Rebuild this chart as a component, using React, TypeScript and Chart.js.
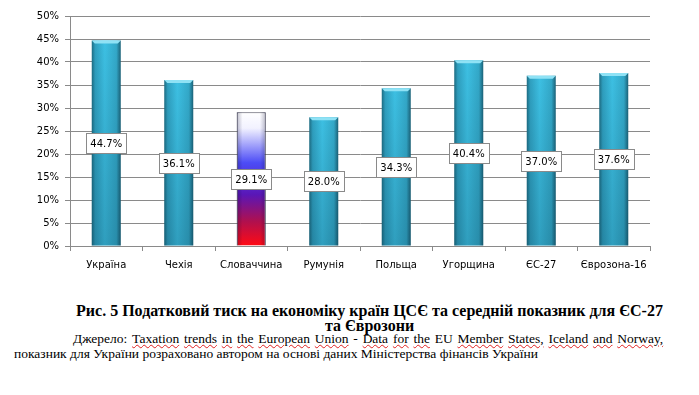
import React, { useEffect, useRef } from "react";
import { Chart, registerables } from "chart.js";

Chart.register(...registerables);

const categories = ["Україна", "Чехія", "Словаччина", "Румунія", "Польща", "Угорщина", "ЄС-27", "Єврозона-16"];
const values = [44.7, 36.1, 29.1, 28.0, 34.3, 40.4, 37.0, 37.6];
const highlighted = [false, false, true, false, false, false, false, false];
const yMax = 50;
const yStep = 5;

const captionLine1 = "Рис. 5 Податковий тиск на економіку країн ЦСЄ та середній показник для ЄС-27";
const captionLine2 = "та Єврозони";
const sourceWords = ["Taxation", "trends", "in", "the", "European", "Union", "-", "Data", "for", "the", "EU", "Member", "States,", "Iceland", "and", "Norway,"];
const sourceLine2 = "показник для України розраховано автором на основі даних Міністерства фінансів України";

const LABEL_FONT = "10px 'DejaVu Sans', Verdana, sans-serif";

const barFx = {
  id: "barFx",
  beforeDatasetsDraw(chart: any) {
    const ctx = chart.ctx;
    const meta = chart.getDatasetMeta(0);
    meta.data.forEach((el: any, i: number) => {
      const { x, y, base, width } = el.getProps(["x", "y", "base", "width"], true);
      const l = x - width / 2;
      const r = x + width / 2;
      let g;
      if (highlighted[i]) {
        g = ctx.createLinearGradient(0, y, 0, base);
        g.addColorStop(0, "#ffffff");
        g.addColorStop(0.12, "#f2f2ff");
        g.addColorStop(0.38, "#4c4cf6");
        g.addColorStop(0.62, "#5a16b6");
        g.addColorStop(0.82, "#b0104e");
        g.addColorStop(1, "#ff0a14");
      } else {
        g = ctx.createLinearGradient(l, 0, r, 0);
        g.addColorStop(0, "#1d6c82");
        g.addColorStop(0.12, "#2f9fbf");
        g.addColorStop(0.45, "#3dc0e3");
        g.addColorStop(0.85, "#33a8c8");
        g.addColorStop(1, "#1b6278");
      }
      el.options.backgroundColor = g;
    });
  },
  afterDatasetsDraw(chart: any) {
    const ctx = chart.ctx;
    const meta = chart.getDatasetMeta(0);
    ctx.save();
    meta.data.forEach((el: any, i: number) => {
      const { x, y, base, width } = el.getProps(["x", "y", "base", "width"], true);
      const l = x - width / 2;
      const r = x + width / 2;
      if (!highlighted[i]) {
        const v = ctx.createLinearGradient(0, y, 0, base);
        v.addColorStop(0, "rgba(0,40,60,0)");
        v.addColorStop(1, "rgba(0,40,60,0.22)");
        ctx.fillStyle = v;
        ctx.fillRect(l, y, width, base - y);
        ctx.beginPath();
        ctx.moveTo(l, y);
        ctx.lineTo(r, y);
        ctx.lineTo(r - 3, y + 3);
        ctx.lineTo(l + 3, y + 3);
        ctx.closePath();
        ctx.fillStyle = "#8fe2f5";
        ctx.fill();
      } else {
        const h = ctx.createLinearGradient(l, 0, r, 0);
        h.addColorStop(0, "rgba(0,0,40,0.25)");
        h.addColorStop(0.2, "rgba(0,0,40,0)");
        h.addColorStop(0.8, "rgba(0,0,40,0)");
        h.addColorStop(1, "rgba(0,0,40,0.25)");
        ctx.fillStyle = h;
        ctx.fillRect(l, y, width, base - y);
      }
    });
    // data labels
    ctx.font = LABEL_FONT;
    ctx.textAlign = "center";
    ctx.textBaseline = "middle";
    meta.data.forEach((el: any, i: number) => {
      const { x, y, base } = el.getProps(["x", "y", "base"], true);
      const text = values[i].toFixed(1) + "%";
      const tw = ctx.measureText(text).width;
      const bw = Math.round(tw + 8);
      const bh = 20;
      const cy = Math.round((y + base) / 2);
      const bx = Math.round(x - bw / 2) + 0.5;
      const by = Math.round(cy - bh / 2) + 0.5;
      ctx.fillStyle = "#ffffff";
      ctx.fillRect(bx, by, bw, bh);
      ctx.strokeStyle = "#8a8a8a";
      ctx.lineWidth = 1;
      ctx.strokeRect(bx, by, bw, bh);
      ctx.fillStyle = "#000000";
      ctx.fillText(text, x, cy + 1);
    });
    ctx.restore();
  },
};

function ChartView() {
  const ref = useRef<HTMLCanvasElement>(null);
  useEffect(() => {
    if (!ref.current) return;
    const chart = new Chart(ref.current, {
      type: "bar",
      data: {
        labels: categories,
        datasets: [
          {
            data: values,
            backgroundColor: (c: any) => (highlighted[c.dataIndex] ? "#5050f0" : "#3cbfe2"),
            borderColor: (c: any) => (highlighted[c.dataIndex] ? "#505060" : "rgba(0,0,0,0)"),
            borderWidth: (c: any) => (highlighted[c.dataIndex] ? 1 : 0),
            barPercentage: 0.5,
            categoryPercentage: 0.8,
          },
        ],
      },
      options: {
        responsive: false,
        animation: false,
        devicePixelRatio: 1,
        layout: { padding: { top: 16, right: 49, left: 0, bottom: 0 } },
        plugins: { legend: { display: false }, tooltip: { enabled: false } },
        scales: {
          x: {
            afterFit: (s: any) => {
              s.height = 34;
            },
            grid: {
              display: true,
              offset: true,
              drawOnChartArea: false,
              drawTicks: true,
              tickLength: 5,
              color: "#8a8a8a",
            },
            border: { display: true, color: "#8a8a8a" },
            ticks: {
              color: "#000",
              padding: 8,
              font: { family: "'DejaVu Sans', Verdana, sans-serif", size: 10 },
              maxRotation: 0,
              autoSkip: false,
            },
          },
          y: {
            min: 0,
            max: yMax,
            afterFit: (s: any) => {
              s.width = 70;
            },
            grid: { color: "#8a8a8a", tickLength: 5 },
            border: { display: true, color: "#8a8a8a" },
            ticks: {
              stepSize: yStep,
              color: "#000",
              padding: 6,
              font: { family: "'DejaVu Sans', Verdana, sans-serif", size: 10 },
              callback: (v: any) => v + "%",
            },
          },
        },
      },
      plugins: [barFx],
    });
    return () => chart.destroy();
  }, []);
  return (
    <canvas ref={ref} width={699} height={280} style={{ position: "absolute", left: 0, top: 0, width: 699, height: 280 }} />
  );
}

export default function App() {
  const serif = "'Liberation Serif', 'Times New Roman', serif";
  return (
    <div style={{ position: "absolute", left: 0, top: 0, width: 699, height: 395, background: "#fff", overflow: "hidden" }}>
      <ChartView />
      <div
        style={{
          position: "absolute",
          left: 40,
          width: 659,
          top: 303,
          textAlign: "center",
          fontFamily: serif,
          fontWeight: "bold",
          fontSize: 16,
          lineHeight: "15px",
          color: "#000",
          whiteSpace: "nowrap",
        }}
      >
        <div>{captionLine1}</div>
        <div>{captionLine2}</div>
      </div>
      <div
        style={{
          position: "absolute",
          left: 73,
          width: 590,
          top: 332,
          fontFamily: serif,
          fontSize: 13.5,
          lineHeight: "13px",
          color: "#000",
          textAlign: "justify",
          textAlignLast: "justify" as any,
          whiteSpace: "normal",
        }}
      >
        <span>Джерело: </span>
        {sourceWords.map((w, i) => (
          <React.Fragment key={i}>
            {" "}
            <span
              style={
                w === "-" || w === "EU"
                  ? undefined
                  : { textDecorationLine: "underline", textDecorationStyle: "wavy", textDecorationColor: "#e02020", textDecorationThickness: "1px" }
              }
            >
              {w}
            </span>
          </React.Fragment>
        ))}
      </div>
      <div
        style={{
          position: "absolute",
          left: 14,
          top: 347,
          fontFamily: serif,
          fontSize: 13.5,
          lineHeight: "13px",
          color: "#000",
          whiteSpace: "nowrap",
        }}
      >
        {sourceLine2}
      </div>
    </div>
  );
}
